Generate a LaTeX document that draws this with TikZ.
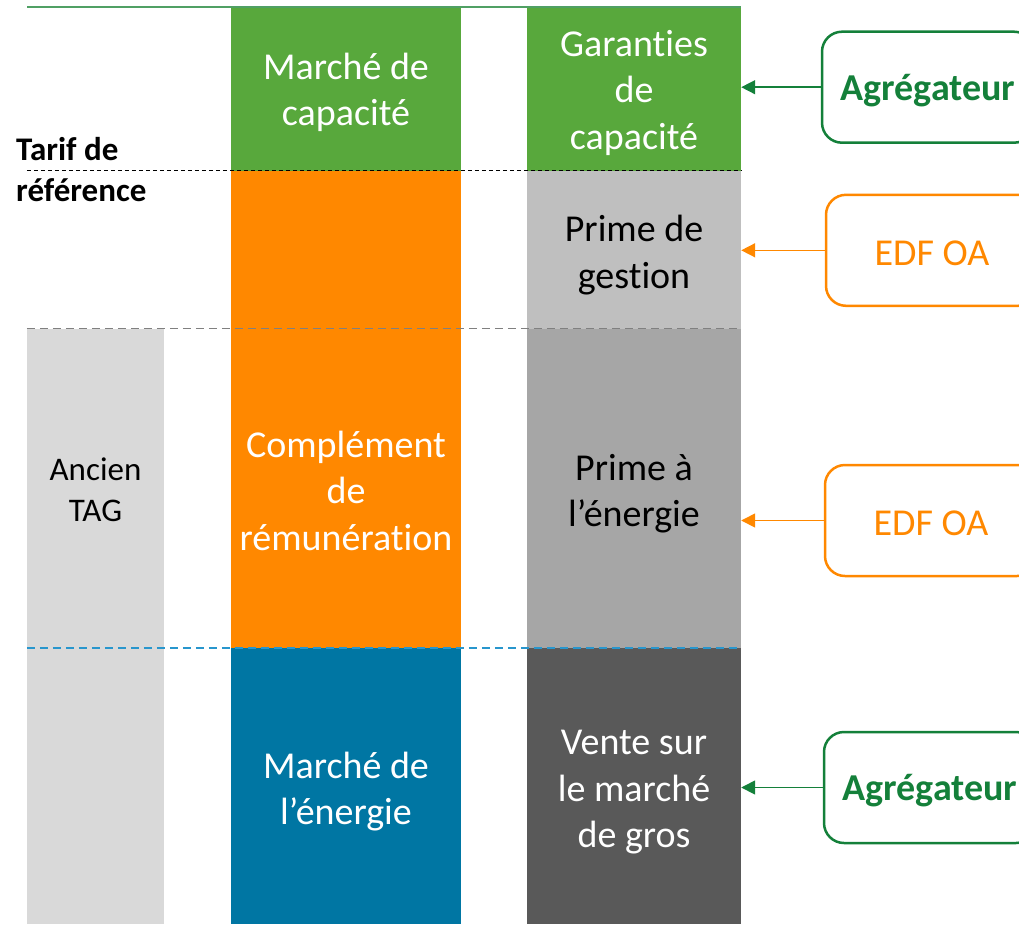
\documentclass[tikz,border=0pt]{standalone}
\usepackage{fontspec}
\setmainfont[Ligatures=NoCommon]{Carlito}
\usetikzlibrary{arrows.meta}
\definecolor{cgreen}{RGB}{88,168,60}
\definecolor{corange}{RGB}{255,136,0}
\definecolor{cblue}{RGB}{0,118,163}
\definecolor{clgray}{RGB}{191,191,191}
\definecolor{cmgray}{RGB}{166,166,166}
\definecolor{cdgray}{RGB}{89,89,89}
\definecolor{ctag}{RGB}{217,217,217}
\definecolor{cdkgreen}{RGB}{20,128,58}
\definecolor{cline}{RGB}{80,160,100}
\definecolor{cdashgray}{RGB}{128,128,128}
\definecolor{cdashblue}{RGB}{40,150,205}
\newcommand{\lowr}[1]{\raisebox{-3pt}[\height][\depth]{#1}}
\begin{document}
\begin{tikzpicture}[x=1pt,y=-1pt,
  blk/.style={rectangle, inner sep=0pt, draw=none},
  big/.style={font=\fontsize{38}{46.5}\selectfont, align=center},
  small/.style={font=\fontsize{33}{41.5}\selectfont, align=center},
  actor/.style={draw, fill=white, line width=2.5pt, rounded corners=20pt, minimum width=212pt, minimum height=111pt, inner sep=0pt, font=\fontsize{38}{46.5}\selectfont},
  arr/.style={line width=1.5pt, -{Triangle[length=14pt,width=14pt]}}]
\useasboundingbox (0,0) rectangle (1019,924);
% left column
\node[blk, fill=ctag, minimum width=137pt, minimum height=595pt] (tag) at (95.5,626.5) {};
\node[small] (tagt) at (95.5,490) {Ancien\\TAG};
% middle column
\node[blk, fill=cgreen, minimum width=230pt, minimum height=164.5pt] (mc) at (346,88.25) {};
\node[blk, fill=corange, minimum width=230pt, minimum height=477.5pt] (cr) at (346,409.25) {};
\node[blk, fill=cblue, minimum width=230pt, minimum height=276pt] (me) at (346,786) {};
\node[big, text=white] (mct) at (346,92.5) {Marché de\\capacité};
\node[big, text=white] (crt) at (346,490.5) {Complément\\de\\rémunération};
\node[big, text=white] (met) at (346,791.5) {Marché de\\l’énergie};
% right column
\node[blk, fill=cgreen, minimum width=214pt, minimum height=164.5pt] (gc) at (634,88.25) {};
\node[blk, fill=clgray, minimum width=214pt, minimum height=158.5pt] (pg) at (634,249.75) {};
\node[blk, fill=cmgray, minimum width=214pt, minimum height=319pt] (pe) at (634,488.5) {};
\node[blk, fill=cdgray, minimum width=214pt, minimum height=276pt] (vm) at (634,786) {};
\node[big, text=white] (gct) at (634,92.5) {Garanties\\de\\capacité};
\node[big, text=black] (pgt) at (634,255) {Prime de\\gestion};
\node[big, text=black] (pet) at (634,493.5) {Prime à\\l’énergie};
\node[big, text=white] (vmt) at (634,792.5) {Vente sur\\le marché\\de gros};
% actors
\node[actor, draw=cdkgreen, text=cdkgreen, font=\fontsize{38}{46.5}\selectfont\bfseries] (a1) at (928,87.2) {\lowr{Agrégateur}};
\node[actor, draw=corange, text=corange] (e1) at (932,250.3) {\lowr{EDF OA}};
\node[actor, draw=corange, text=corange] (e2) at (931,520.5) {\lowr{EDF OA}};
\node[actor, draw=cdkgreen, text=cdkgreen, font=\fontsize{38}{46.5}\selectfont\bfseries] (a2) at (930,787.5) {\lowr{Agrégateur}};
% arrows
\draw[arr, cdkgreen] (a1.west) -- (a1.west -| gc.east);
\draw[arr, corange] (e1.west) -- (e1.west -| pg.east);
\draw[arr, corange] (e2.west) -- (e2.west -| pe.east);
\draw[arr, cdkgreen] (a2.west) -- (a2.west -| vm.east);
% lines
\coordinate (l0) at (27,6.5);
\draw[cline, line width=2pt] (l0) -- (l0 -| gc.east);
\draw[black, line width=1.2pt, dash pattern=on 4pt off 3pt] (tag.west |- mc.south) -- (gc.south east);
\draw[cdashgray, line width=1.2pt, dash pattern=on 8pt off 5pt] (tag.north west) -- (pe.north east);
\draw[cdashblue, line width=1.4pt, dash pattern=on 8pt off 5pt] (tag.west |- me.north) -- (vm.north east);
% label
\node[font=\fontsize{33}{41}\selectfont\bfseries, align=left, anchor=west, inner sep=0pt] (tarif) at (16,170) {Tarif de\\référence};
\end{tikzpicture}
\end{document}
